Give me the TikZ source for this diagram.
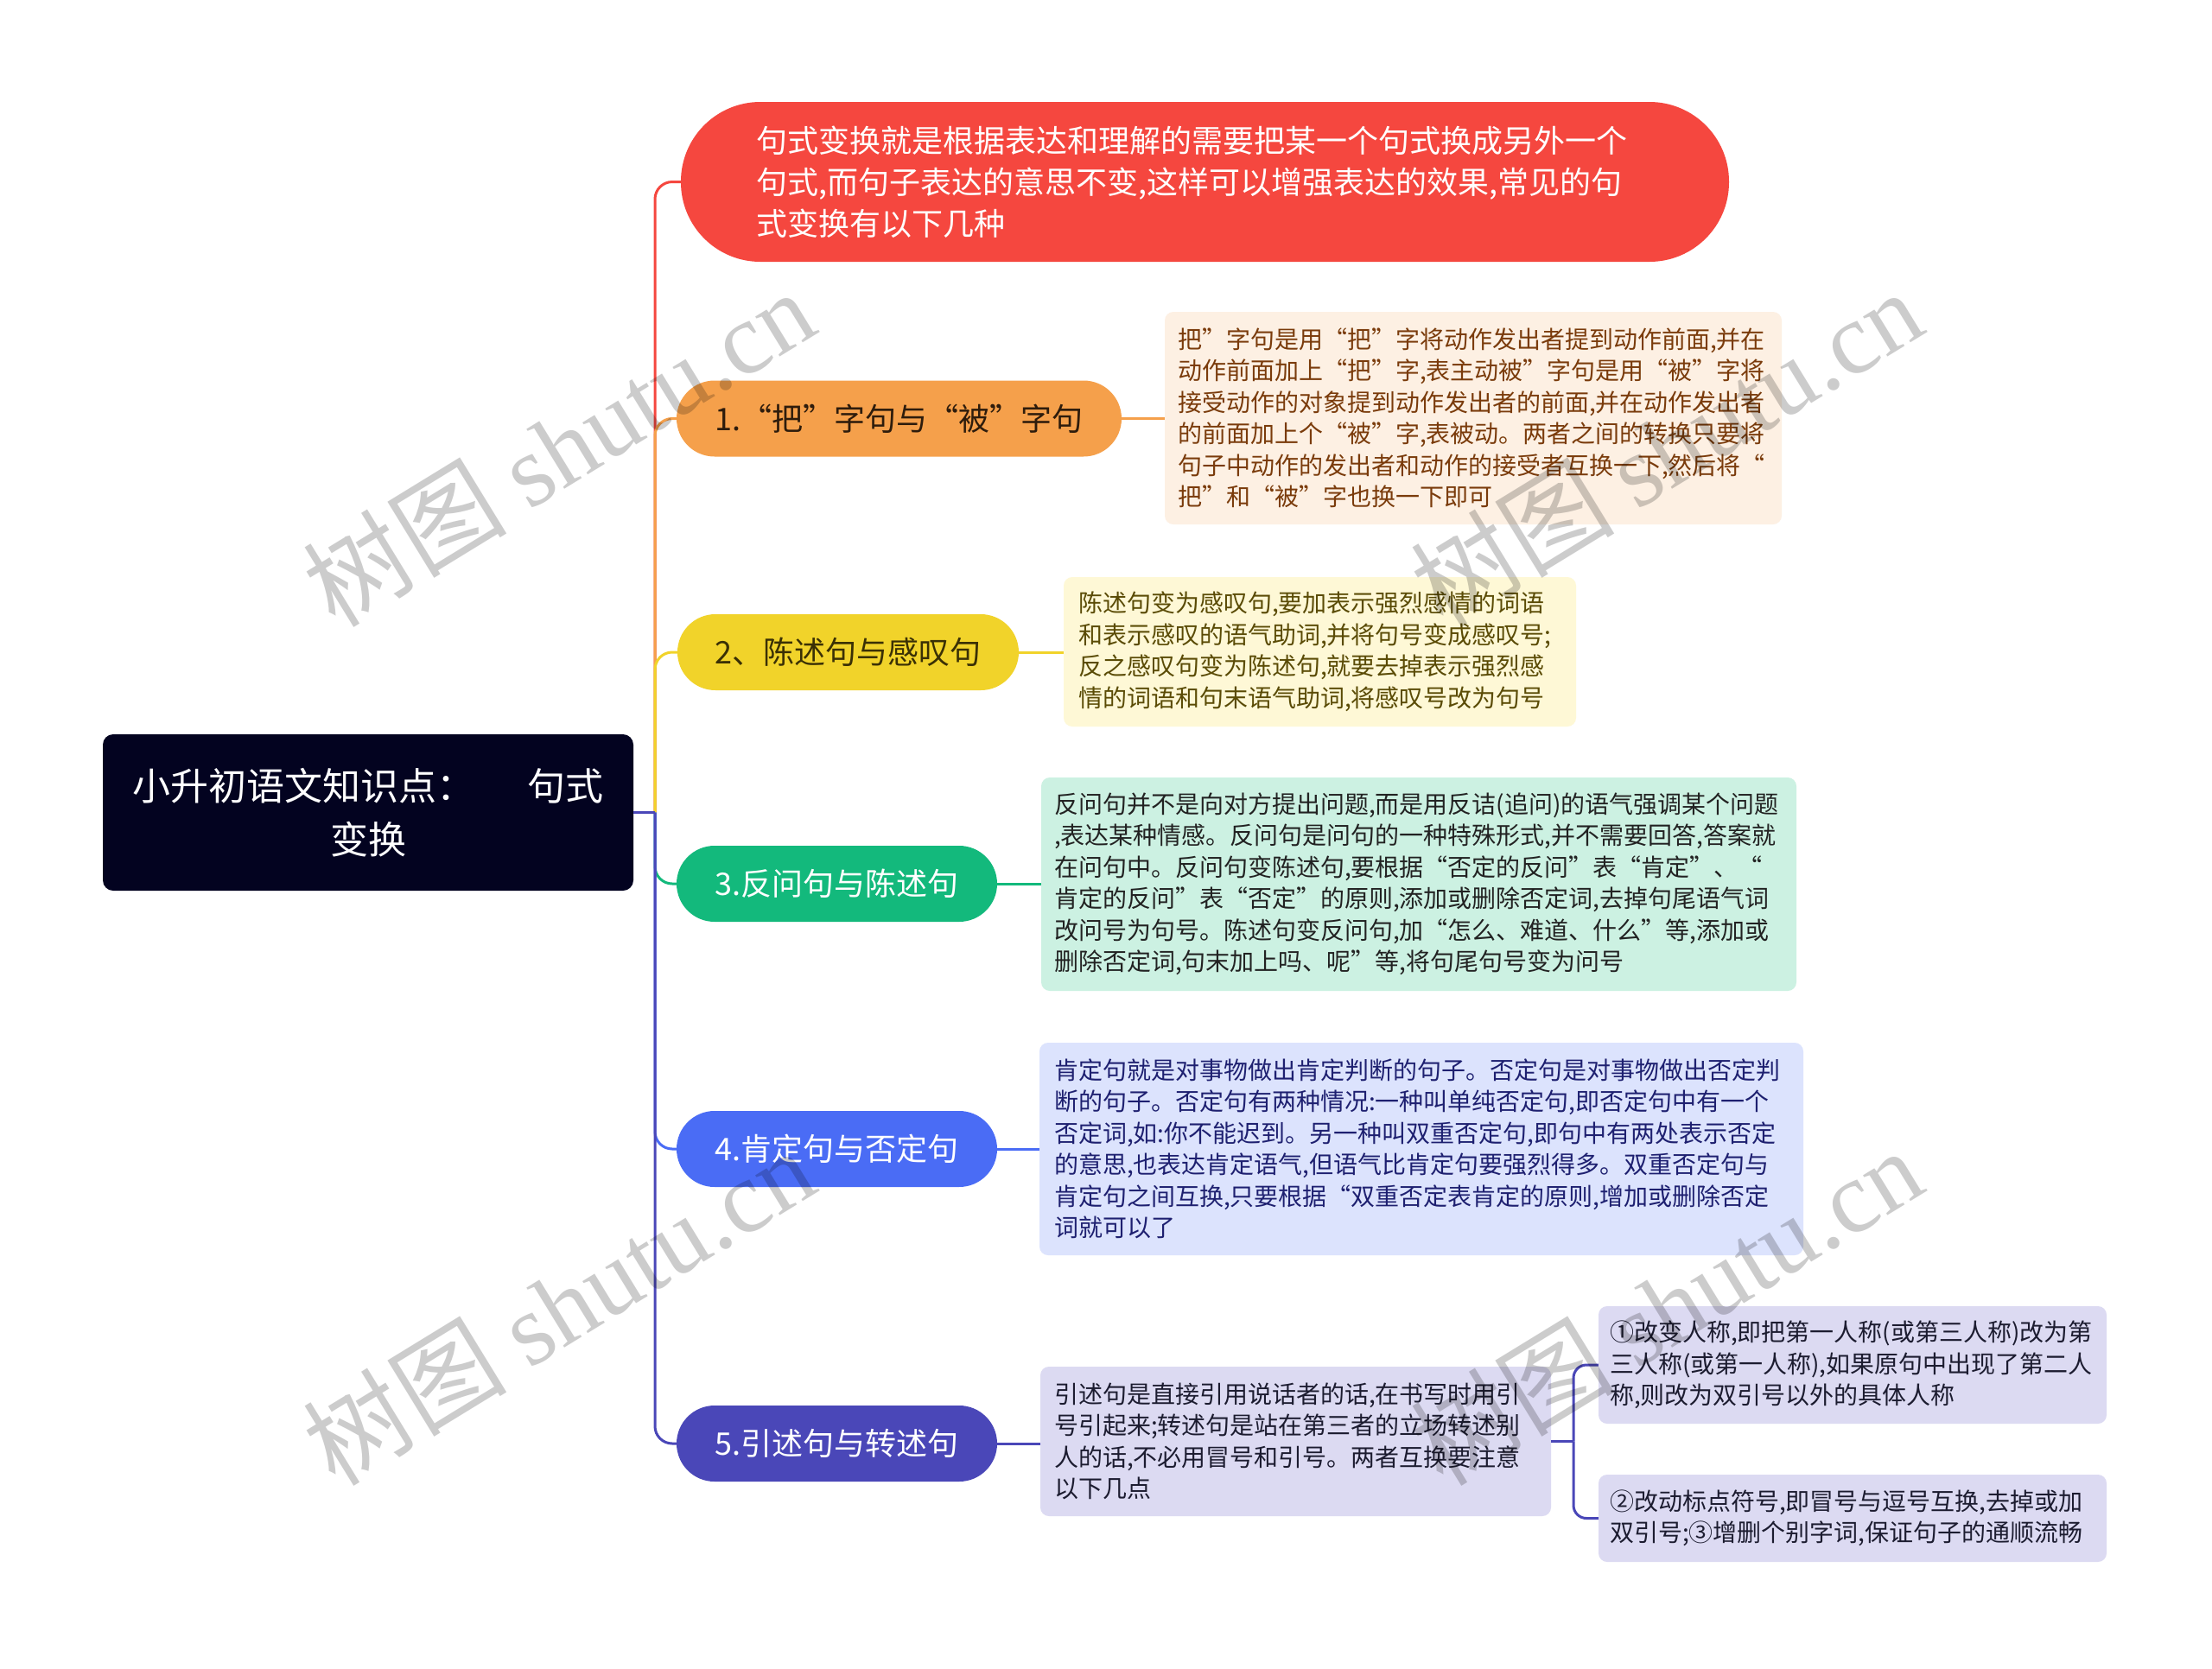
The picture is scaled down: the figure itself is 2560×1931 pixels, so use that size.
\documentclass[tikz,border=0pt]{standalone}
\usepackage{fontspec}
\setmainfont{Noto Sans CJK SC}
\newfontfamily\wmfont{Liberation Serif}
\usetikzlibrary{calc}
\definecolor{croot}{HTML}{030320}
\definecolor{cred}{HTML}{F5473F}
\definecolor{corange}{HTML}{F5A04B}
\definecolor{cyellow}{HTML}{F1D32A}
\definecolor{cgreen}{HTML}{13B97C}
\definecolor{cblue}{HTML}{4A6CF5}
\definecolor{cpurple}{HTML}{4A47B8}
\definecolor{torange}{HTML}{2E1C0C}
\definecolor{tyellow}{HTML}{3A3005}
\definecolor{fa}{HTML}{FDF0E3}
\definecolor{ta}{HTML}{7A3B0B}
\definecolor{fb}{HTML}{FEF8D6}
\definecolor{tb}{HTML}{5A4B05}
\definecolor{fc}{HTML}{CCF1E2}
\definecolor{tc}{HTML}{222222}
\definecolor{fd}{HTML}{DCE3FD}
\definecolor{td}{HTML}{1E2070}
\definecolor{fe}{HTML}{DCDAF2}
\definecolor{te}{HTML}{1C1C30}
\begin{document}
\begin{tikzpicture}[x=1pt,y=-1pt,
  pill/.style={rounded corners=44pt, minimum height=88pt, inner sep=0pt, font=\fontsize{36}{44}\selectfont},
  det/.style={rounded corners=10pt, inner sep=0pt, align=left, font=\fontsize{28}{36.5}\selectfont},
  link/.style={line width=3pt},
  wm/.style={rotate=31.5, text=black, opacity=0.2, font=\fontsize{118}{120}\selectfont}]
\useasboundingbox (0,0) rectangle (2560,1931);
\fill[white] (0,0) rectangle (2560,1931);

% root
\node[fill=croot, rounded corners=12pt, minimum width=614pt, minimum height=181pt, align=center, text=white, inner sep=0pt, font=\fontsize{44}{62}\selectfont] (root) at (426,940.5) {小升初语文知识点：\hspace{61pt}句式\\变换};

% top red node
\node[fill=cred, rounded corners=92pt, minimum width=1213pt, minimum height=185pt, text width=1039pt, inner sep=0pt, align=left, text=white, font=\fontsize{36}{48}\selectfont] (top) at (1394.5,210.5) {句式变换就是根据表达和理解的需要把某一个句式换成另外一个\\句式,而句子表达的意思不变,这样可以增强表达的效果,常见的句\\式变换有以下几种};

% branch pills
\node[pill, fill=corange, text=torange, minimum width=515pt] (n1) at (1040.5,484.5) {1.“把”字句与“被”字句};
\node[pill, fill=cyellow, text=tyellow, minimum width=395pt] (n2) at (981.5,755) {2、陈述句与感叹句};
\node[pill, fill=cgreen, text=white, minimum width=371pt] (n3) at (968.5,1023) {3.反问句与陈述句};
\node[pill, fill=cblue, text=white, minimum width=371pt] (n4) at (968.5,1330) {4.肯定句与否定句};
\node[pill, fill=cpurple, text=white, minimum width=371pt] (n5) at (968.5,1671) {5.引述句与转述句};

% detail boxes
\node[det, fill=fa, text=ta, minimum width=714pt, minimum height=246pt, text width=684pt] (d1) at (1705,484) {把”字句是用“把”字将动作发出者提到动作前面,并在\\动作前面加上“把”字,表主动被”字句是用“被”字将\\接受动作的对象提到动作发出者的前面,并在动作发出者\\的前面加上个“被”字,表被动。两者之间的转换只要将\\句子中动作的发出者和动作的接受者互换一下,然后将“\\把”和“被”字也换一下即可};
\node[det, fill=fb, text=tb, minimum width=593pt, minimum height=173pt, text width=559pt] (d2) at (1527.5,754.5) {陈述句变为感叹句,要加表示强烈感情的词语\\和表示感叹的语气助词,并将句号变成感叹号;\\反之感叹句变为陈述句,就要去掉表示强烈感\\情的词语和句末语气助词,将感叹号改为句号};
\node[det, fill=fc, text=tc, minimum width=874pt, minimum height=247pt, text width=844pt] (d3) at (1642,1023.5) {反问句并不是向对方提出问题,而是用反诘(追问)的语气强调某个问题\\,表达某种情感。反问句是问句的一种特殊形式,并不需要回答,答案就\\在问句中。反问句变陈述句,要根据“否定的反问”表“肯定”、“\\肯定的反问”表“否定”的原则,添加或删除否定词,去掉句尾语气词\\改问号为句号。陈述句变反问句,加“怎么、难道、什么”等,添加或\\删除否定词,句末加上吗、呢”等,将句尾句号变为问号};
\node[det, fill=fd, text=td, minimum width=884pt, minimum height=246pt, text width=850pt] (d4) at (1645,1330) {肯定句就是对事物做出肯定判断的句子。否定句是对事物做出否定判\\断的句子。否定句有两种情况:一种叫单纯否定句,即否定句中有一个\\否定词,如:你不能迟到。另一种叫双重否定句,即句中有两处表示否定\\的意思,也表达肯定语气,但语气比肯定句要强烈得多。双重否定句与\\肯定句之间互换,只要根据“双重否定表肯定的原则,增加或删除否定\\词就可以了};
\node[det, fill=fe, text=te, minimum width=591pt, minimum height=173pt, text width=559pt] (d5) at (1499.5,1668.5) {引述句是直接引用说话者的话,在书写时用引\\号引起来;转述句是站在第三者的立场转述别\\人的话,不必用冒号和引号。两者互换要注意\\以下几点};
\node[det, fill=fe, text=te, minimum width=588pt, minimum height=136pt, text width=562pt] (d6) at (2144,1580) {①改变人称,即把第一人称(或第三人称)改为第\\三人称(或第一人称),如果原句中出现了第二人\\称,则改为双引号以外的具体人称};
\node[det, fill=fe, text=te, minimum width=588pt, minimum height=101pt, text width=562pt] (d7) at (2144,1757.5) {②改动标点符号,即冒号与逗号互换,去掉或加\\双引号;③增删个别字词,保证句子的通顺流畅};

% trunk connectors
\coordinate (tr) at (758,940.5);
\draw[link, cred, rounded corners=20pt] (tr) |- (top.west);
\draw[link, corange, rounded corners=20pt] (tr) |- (n1.west);
\draw[link, cyellow, rounded corners=20pt] (tr) |- (n2.west);
\draw[link, cgreen, rounded corners=20pt] (tr) |- (n3.west);
\draw[link, cblue, rounded corners=20pt] (tr) |- (n4.west);
\draw[link, cpurple, rounded corners=20pt] (tr) |- (n5.west);
\draw[link, cpurple] (root.east) -- (tr);

% pill to detail
\draw[link, corange] (n1.east) -- (n1.east -| d1.west);
\draw[link, cyellow] (n2.east) -- (n2.east -| d2.west);
\draw[link, cgreen] (n3.east) -- (n3.east -| d3.west);
\draw[link, cblue] (n4.east) -- (n4.east -| d4.west);
\draw[link, cpurple] (n5.east) -- (n5.east -| d5.west);

% d5 to d6, d7
\coordinate (j5) at (1821,1668.5);
\draw[link, cpurple] (d5.east) -- (j5);
\draw[link, cpurple, rounded corners=15pt] (j5) |- (d6.west);
\draw[link, cpurple, rounded corners=15pt] (j5) |- (d7.west);

% watermarks
\node[wm] (w1) at (646,518) {树图 {\wmfont shutu.cn}};
\node[wm] (w2) at (1928,518) {树图 {\wmfont shutu.cn}};
\node[wm] (w3) at (646,1512) {树图 {\wmfont shutu.cn}};
\node[wm] (w4) at (1928,1512) {树图 {\wmfont shutu.cn}};
\end{tikzpicture}
\end{document}
